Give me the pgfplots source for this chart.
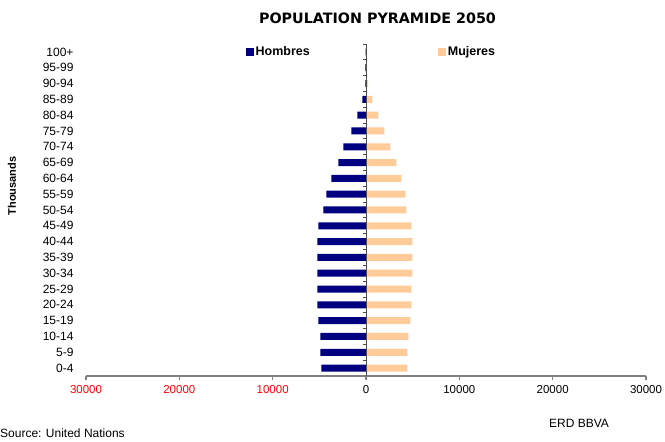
\documentclass[border=0pt]{standalone}
\usepackage{fontspec}
\setmainfont{Liberation Sans}
\newfontfamily\titlefont{DejaVu Sans}
\usepackage{pgfplots}
\usepackage{pgfplotstable}
\pgfplotsset{compat=1.18}
\definecolor{hombres}{HTML}{000080}
\definecolor{mujeres}{HTML}{FFCC99}
\definecolor{negred}{HTML}{FF0000}

% idx: 0 = 0-4 ... 20 = 100+ ; men negative, women positive (thousands)
\pgfplotstableread{
idx  h      m
0    -4790  4430
1    -4900  4430
2    -4900  4540
3    -5110  4750
4    -5210  4860
5    -5210  4860
6    -5210  4970
7    -5210  4970
8    -5210  4970
9    -5110  4860
10   -4570  4320
11   -4250  4210
12   -3710  3790
13   -2960  3250
14   -2430  2610
15   -1570  1960
16   -930   1320
17   -390   680
18   -80    230
19   -60    40
20   -40    20
}\pyramid

\begin{document}
\begin{tikzpicture}
\begin{axis}[
  scale only axis, width=560bp, height=332bp,
  xbar, bar width=7bp, bar shift=0pt,
  xmin=-30000, xmax=30000, ymin=-0.5, ymax=20.5,
  scaled x ticks=false,
  axis x line*=bottom, axis y line*=left,
  x axis line style={gray, line width=1.2bp},
  y axis line style={draw=none},
  tick align=outside, major tick length=4bp,
  x tick style={gray, line width=1.2bp},
  y tick style={draw=none},
  xtick={-30000,-20000,-10000,0,10000,20000,30000},
  xticklabels={\textcolor{negred}{30000},\textcolor{negred}{20000},\textcolor{negred}{10000},0,10000,20000,30000},
  xticklabel style={font=\fontsize{11.5bp}{13bp}\selectfont, yshift=-2bp},
  ytick={0,...,20},
  yticklabels={0-4,5-9,10-14,15-19,20-24,25-29,30-34,35-39,40-44,45-49,50-54,55-59,60-64,65-69,70-74,75-79,80-84,85-89,90-94,95-99,100+},
  yticklabel style={font=\fontsize{12bp}{14bp}\selectfont, xshift=-5bp},
  legend columns=2,
  legend image code/.code={\path[#1, draw=none] (0bp,-4bp) rectangle (8bp,4bp);},
  legend style={at={(axis cs:-12860,20)}, anchor=west, draw=none, fill=none,
    inner sep=0pt, font=\bfseries\fontsize{12.5bp}{14bp}\selectfont,
    nodes={inner sep=1.5bp},
    /tikz/every even column/.append style={column sep=127bp}},
]
\addplot[fill=hombres, draw=none] table[x=h, y=idx] {\pyramid};
\addlegendentry{Hombres}
\addplot[fill=mujeres, draw=none] table[x=m, y=idx] {\pyramid};
\addlegendentry{Mujeres}
\draw[black!70, line width=1bp] (axis cs:0,-0.5) -- (axis cs:0,20.5);
\pgfplotsinvokeforeach{-0.5,0.5,1.5,2.5,3.5,4.5,5.5,6.5,7.5,8.5,9.5,10.5,11.5,12.5,13.5,14.5,15.5,16.5,17.5,18.5,19.5,20.5}{
  \draw[black!70, line width=0.9bp] (axis cs:0,#1) -- (axis cs:-330,#1);
}
\end{axis}
\node[font=\titlefont\bfseries\fontsize{14.3bp}{16bp}\selectfont] at (291.5bp,358bp) {POPULATION PYRAMIDE 2050};
\node[rotate=90, font=\bfseries\fontsize{11bp}{13bp}\selectfont] at (-74bp,190bp) {Thousands};
\node[anchor=west, inner sep=0pt, font=\fontsize{12bp}{14bp}\selectfont] at (-86bp,-57bp) {Source: United Nations};
\node[inner sep=0pt, font=\fontsize{12bp}{14bp}\selectfont] at (493bp,-47bp) {ERD BBVA};
\pgfresetboundingbox
\path (-86bp,-66bp) rectangle (579bp,376bp);
\end{tikzpicture}
\end{document}
